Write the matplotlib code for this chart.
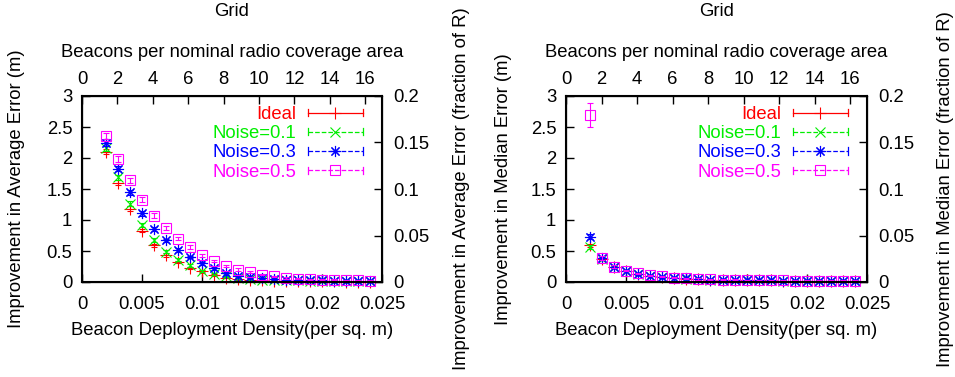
"""Improvement in localization error vs. beacon density (Grid)."""

import numpy as np
import matplotlib
matplotlib.use("Agg")
import matplotlib.pyplot as plt
from matplotlib.legend_handler import HandlerBase
from matplotlib.lines import Line2D
from matplotlib.ticker import FormatStrFormatter, MultipleLocator


plt.rcParams["font.family"] = ["Liberation Sans", "DejaVu Sans"]
plt.rcParams["font.size"] = 13.3

# beacon deployment density (per sq. m)
density = [0.002, 0.003, 0.004, 0.005, 0.006, 0.007, 0.008, 0.009, 0.010, 0.011, 0.012, 0.013,
           0.014, 0.015, 0.016, 0.017, 0.018, 0.019, 0.020, 0.021, 0.022, 0.023, 0.024]

series_labels = ["Ideal", "Noise=0.1", "Noise=0.3", "Noise=0.5"]

# improvement in average error (m)
avg_ideal = [2.10, 1.60, 1.18, 0.83, 0.59, 0.43, 0.32, 0.23, 0.17, 0.11, 0.07, 0.05,
             0.04, 0.03, 0.02, 0.02, 0.015, 0.01, 0.01, 0.01, 0.005, 0.005, 0.005]
avg_noise01 = [2.16, 1.69, 1.26, 0.92, 0.68, 0.49, 0.36, 0.27, 0.18, 0.13, 0.09, 0.07,
               0.05, 0.04, 0.035, 0.03, 0.025, 0.02, 0.02, 0.015, 0.01, 0.01, 0.01]
avg_noise03 = [2.25, 1.83, 1.45, 1.11, 0.86, 0.67, 0.52, 0.40, 0.30, 0.22, 0.14, 0.10,
               0.075, 0.06, 0.05, 0.04, 0.035, 0.03, 0.025, 0.02, 0.02, 0.015, 0.015]
avg_noise05 = [2.35, 1.99, 1.64, 1.33, 1.07, 0.87, 0.70, 0.56, 0.43, 0.34, 0.26, 0.20,
               0.16, 0.12, 0.09, 0.065, 0.055, 0.045, 0.04, 0.035, 0.03, 0.025, 0.02]

avg_err_ideal = [0.04, 0.04, 0.04, 0.03, 0.03, 0.03, 0.02, 0.02, 0.02, 0.02, 0.01, 0.01,
                 0.01, 0.01, 0.01, 0.01, 0.01, 0.01, 0.01, 0.01, 0.01, 0.01, 0.01]
avg_err_noise01 = [0.04, 0.04, 0.04, 0.03, 0.03, 0.03, 0.02, 0.02, 0.02, 0.02, 0.01, 0.01,
                   0.01, 0.01, 0.01, 0.01, 0.01, 0.01, 0.01, 0.01, 0.01, 0.01, 0.01]
avg_err_noise03 = [0.05, 0.04, 0.04, 0.04, 0.03, 0.03, 0.03, 0.02, 0.02, 0.02, 0.02, 0.01,
                   0.01, 0.01, 0.01, 0.01, 0.01, 0.01, 0.01, 0.01, 0.01, 0.01, 0.01]
avg_err_noise05 = [0.05, 0.05, 0.04, 0.04, 0.04, 0.03, 0.03, 0.03, 0.02, 0.02, 0.02, 0.02,
                   0.01, 0.01, 0.01, 0.01, 0.01, 0.01, 0.01, 0.01, 0.01, 0.01, 0.01]

# improvement in median error (m)
med_ideal = [0.59, 0.37, 0.24, 0.18, 0.13, 0.10, 0.08, 0.07, 0.055, 0.05, 0.04, 0.035,
             0.03, 0.03, 0.025, 0.025, 0.02, 0.02, 0.02, 0.02, 0.015, 0.015, 0.015]
med_noise01 = [0.57, 0.37, 0.24, 0.18, 0.13, 0.10, 0.08, 0.07, 0.055, 0.05, 0.04, 0.035,
               0.03, 0.03, 0.025, 0.025, 0.02, 0.02, 0.02, 0.02, 0.015, 0.015, 0.015]
med_noise03 = [0.73, 0.38, 0.25, 0.18, 0.13, 0.10, 0.08, 0.07, 0.06, 0.05, 0.04, 0.035,
               0.03, 0.03, 0.025, 0.025, 0.02, 0.02, 0.02, 0.02, 0.015, 0.015, 0.015]
med_noise05 = [2.69, 0.39, 0.25, 0.18, 0.14, 0.11, 0.09, 0.07, 0.06, 0.05, 0.045, 0.04,
               0.035, 0.03, 0.03, 0.025, 0.025, 0.02, 0.02, 0.02, 0.02, 0.015, 0.015]

med_err_ideal = [0.03, 0.02, 0.02, 0.01, 0.01, 0.01, 0.01, 0.01, 0.01, 0.01, 0.01, 0.01,
                 0.01, 0.01, 0.01, 0.01, 0.01, 0.01, 0.01, 0.01, 0.01, 0.01, 0.01]
med_err_noise01 = [0.03, 0.02, 0.02, 0.01, 0.01, 0.01, 0.01, 0.01, 0.01, 0.01, 0.01, 0.01,
                   0.01, 0.01, 0.01, 0.01, 0.01, 0.01, 0.01, 0.01, 0.01, 0.01, 0.01]
med_err_noise03 = [0.04, 0.02, 0.02, 0.01, 0.01, 0.01, 0.01, 0.01, 0.01, 0.01, 0.01, 0.01,
                   0.01, 0.01, 0.01, 0.01, 0.01, 0.01, 0.01, 0.01, 0.01, 0.01, 0.01]
med_err_noise05 = [0.19, 0.03, 0.02, 0.01, 0.01, 0.01, 0.01, 0.01, 0.01, 0.01, 0.01, 0.01,
                   0.01, 0.01, 0.01, 0.01, 0.01, 0.01, 0.01, 0.01, 0.01, 0.01, 0.01]

# gnuplot-like styles per series
STYLES = [
    dict(color="#ff0000", linestyle="-", marker="+", markersize=8),
    dict(color="#00ee00", linestyle=(0, (4, 2)), marker="x", markersize=6.5),
    dict(color="#0000ff", linestyle=(0, (2, 2)), marker=(8, 2, 0), markersize=8),
    dict(color="#ff00ff", linestyle=(0, (1, 1.5)), marker="s", markersize=7.5),
]

BEACON_AXIS_MAX = 16.95  # top axis value matching density 0.025


class HandlerGnuplotErrorbar(HandlerBase):
    """Legend sample: line with end caps and the point in the middle."""

    def create_artists(self, legend, orig, xdescent, ydescent, width, height, fontsize, trans):
        y = height / 2 - ydescent
        x0, x1 = -xdescent, width - xdescent
        cap = height * 0.28
        color = orig.get_color()
        line = Line2D([x0, x1], [y, y], color=color, linestyle=orig.get_linestyle(), linewidth=0.9)
        caps = Line2D([x0, x0, np.nan, x1, x1], [y - cap, y + cap, np.nan, y - cap, y + cap],
                      color=color, linewidth=0.9)
        mark = Line2D([(x0 + x1) / 2], [y], color=color, linestyle="none", marker=orig.get_marker(),
                      markersize=orig.get_markersize(), mfc="none", mew=0.8)
        for artist in (line, caps, mark):
            artist.set_transform(trans)
        return [line, caps, mark]


def draw_panel(fig, rect, values, errors, ylabel, ylabel_frac, left_label_x, right_label_x):
    ax = fig.add_axes(rect)
    for vals, errs, style in zip(values, errors, STYLES):
        ax.errorbar(density, vals, yerr=errs, fmt="none", ecolor=style["color"], elinewidth=0.8,
                    capsize=2, capthick=0.8, clip_on=False)
        ax.plot(density, vals, linestyle="none", marker=style["marker"], markersize=style["markersize"],
                mfc="none", mew=0.8, color=style["color"], clip_on=False)

    ax.set_xlim(0, 0.025)
    ax.set_ylim(0, 3)
    ax.xaxis.set_major_locator(MultipleLocator(0.005))
    ax.yaxis.set_major_locator(MultipleLocator(0.5))
    ax.xaxis.set_major_formatter(FormatStrFormatter("%g"))
    ax.yaxis.set_major_formatter(FormatStrFormatter("%g"))
    ax.tick_params(direction="in", length=6, width=1, pad=7, top=False, right=False)
    ax.tick_params(axis="x", pad=10)
    ax.set_xlabel("Beacon Deployment Density(per sq. m)")
    ax.set_ylabel(ylabel)
    ax.yaxis.set_label_coords(left_label_x, 0.5)
    ax.xaxis.set_label_coords(0.5, -0.216)
    for spine in ax.spines.values():
        spine.set_linewidth(1.5)

    ax_right = ax.twinx()
    ax_right.set_ylim(0, 0.2)
    ax_right.yaxis.set_major_locator(MultipleLocator(0.05))
    ax_right.yaxis.set_major_formatter(FormatStrFormatter("%g"))
    ax_right.tick_params(direction="in", length=6, width=1, pad=8)
    ax_right.set_ylabel(ylabel_frac)
    ax_right.yaxis.set_label_coords(right_label_x, 0.5)

    ax_top = ax.twiny()
    ax_top.set_xlim(0, BEACON_AXIS_MAX)
    ax_top.xaxis.set_major_locator(MultipleLocator(2))
    ax_top.tick_params(direction="in", length=6, width=1, pad=6)
    ax_top.set_xlabel("Beacons per nominal radio coverage area", labelpad=10)

    handles = [Line2D([], [], color=s["color"], linestyle=s["linestyle"], marker=s["marker"],
                      markersize=s["markersize"]) for s in STYLES]
    ax.legend(handles, series_labels, loc="upper right", bbox_to_anchor=(0.96, 0.986),
              frameon=False, markerfirst=False, labelcolor="linecolor", handlelength=2.95,
              handletextpad=0.65, labelspacing=0.12, borderaxespad=0.0,
              handler_map={Line2D: HandlerGnuplotErrorbar()})

    center_x = rect[0] + rect[2] / 2
    fig.text(center_x, 1 - 12 / 377, "Grid", ha="center", va="center")
    return ax


fig = plt.figure(figsize=(9.55, 3.77), dpi=100)

draw_panel(fig, [82 / 955, 95 / 377, 300 / 955, 186 / 377],
           [avg_ideal, avg_noise01, avg_noise03, avg_noise05],
           [avg_err_ideal, avg_err_noise01, avg_err_noise03, avg_err_noise05],
           "Improvement in Average Error (m)", "Improvement in Average Error (fraction of R)",
           -0.19, 1.237)
draw_panel(fig, [566 / 955, 95 / 377, 301 / 955, 186 / 377],
           [med_ideal, med_noise01, med_noise03, med_noise05],
           [med_err_ideal, med_err_noise01, med_err_noise03, med_err_noise05],
           "Improvement in Median Error (m)", "Improvement in Median Error (fraction of R)",
           -0.179, 1.232)

fig.savefig("out.png", dpi=100)
plt.close(fig)
